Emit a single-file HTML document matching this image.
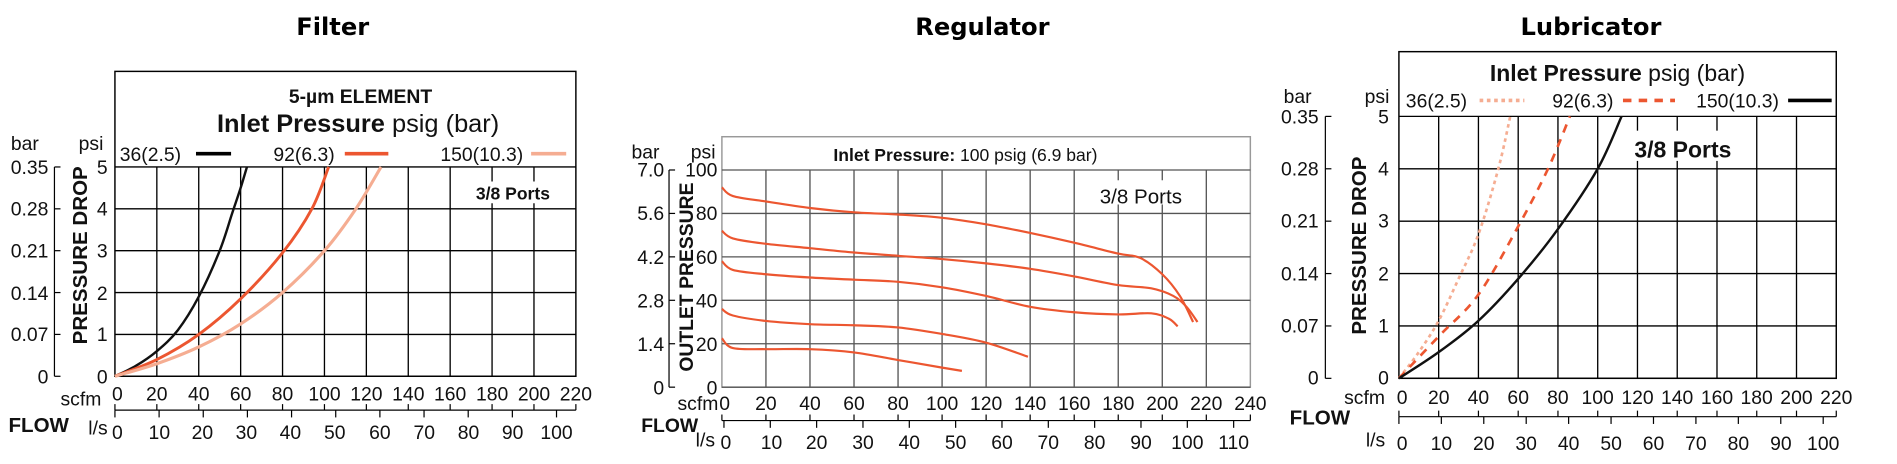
<!DOCTYPE html>
<html><head><meta charset="utf-8"><style>
html,body{margin:0;padding:0;background:#fff;width:1897px;height:464px;overflow:hidden}
svg{display:block}
text{font-family:"Liberation Sans Narrow","Liberation Sans",sans-serif;fill:#111}
.t{font-family:"DejaVu Sans","Liberation Sans",sans-serif;font-weight:bold;font-size:20px;fill:#000}
.k{font-size:16px}
.b{font-weight:bold}
</style></head><body>
<svg id="s" width="1897" height="464" viewBox="0 0 1568 383.5" preserveAspectRatio="none">
<g id="g"></g>
<text class="t" x="275" y="29" text-anchor="middle">Filter</text>
<text class="t" x="812" y="29" text-anchor="middle">Regulator</text>
<text class="t" x="1315" y="29" text-anchor="middle">Lubricator</text>

<!-- FILTER -->
<text x="298" y="85" text-anchor="middle" style="font-size:16px" class="b">5-µm ELEMENT</text>
<text x="296" y="109" text-anchor="middle" style="font-size:21px"><tspan class="b">Inlet Pressure</tspan> psig (bar)</text>
<text x="99" y="133" class="k">36(2.5)</text>
<text x="226" y="133" class="k">92(6.3)</text>
<text x="364" y="133" class="k">150(10.3)</text>
<rect x="386" y="150" width="74" height="18" fill="#fff"/>
<text x="424" y="165" text-anchor="middle" class="b" style="font-size:14.5px">3/8 Ports</text>
<text x="9" y="124" class="k">bar</text><text x="65" y="124" class="k">psi</text>
<g class="k" text-anchor="end">
<text x="40" y="144">0.35</text><text x="40" y="178">0.28</text><text x="40" y="213">0.21</text><text x="40" y="248">0.14</text><text x="40" y="282">0.07</text><text x="40" y="317">0</text>
<text x="89" y="144">5</text><text x="89" y="178">4</text><text x="89" y="213">3</text><text x="89" y="248">2</text><text x="89" y="282">1</text><text x="89" y="317">0</text>
</g>
<text transform="translate(72,211) rotate(-90)" text-anchor="middle" class="b" style="font-size:17px">PRESSURE DROP</text>
<g class="k" text-anchor="middle">
<text x="97" y="331">0</text><text x="129.6" y="331">20</text><text x="164.3" y="331">40</text><text x="198.9" y="331">60</text><text x="233.5" y="331">80</text><text x="268.2" y="331">100</text><text x="302.8" y="331">120</text><text x="337.5" y="331">140</text><text x="372.1" y="331">160</text><text x="406.8" y="331">180</text><text x="441.4" y="331">200</text><text x="476" y="331">220</text>
<text x="97" y="363">0</text><text x="131.7" y="363">10</text><text x="167.3" y="363">20</text><text x="203.7" y="363">30</text><text x="240" y="363">40</text><text x="276.7" y="363">50</text><text x="314" y="363">60</text><text x="350.7" y="363">70</text><text x="387.3" y="363">80</text><text x="423.7" y="363">90</text><text x="460" y="363">100</text>
</g>
<text x="50" y="335" class="k">scfm</text>
<text x="7" y="357" class="b" style="font-size:17px">FLOW</text>
<text x="73" y="359" class="k">l/s</text>

<!-- REGULATOR -->
<text x="798" y="133" text-anchor="middle" style="font-size:14.5px"><tspan class="b">Inlet Pressure:</tspan> 100 psig (6.9 bar)</text>
<rect x="904" y="149" width="78" height="20" fill="#fff"/>
<text x="943" y="168" text-anchor="middle" style="font-size:17px">3/8 Ports</text>
<text x="522" y="131" class="k">bar</text><text x="571" y="131" class="k">psi</text>
<g class="k" text-anchor="end">
<text x="549" y="146">7.0</text><text x="549" y="182">5.6</text><text x="549" y="218">4.2</text><text x="549" y="254">2.8</text><text x="549" y="290">1.4</text><text x="549" y="326">0</text>
<text x="593" y="146">100</text><text x="593" y="182">80</text><text x="593" y="218">60</text><text x="593" y="254">40</text><text x="593" y="290">20</text><text x="593" y="326">0</text>
</g>
<text transform="translate(573,229) rotate(-90)" text-anchor="middle" class="b" style="font-size:16px">OUTLET PRESSURE</text>
<g class="k" text-anchor="middle">
<text x="599" y="339">0</text><text x="633.1" y="339">20</text><text x="669.5" y="339">40</text><text x="705.9" y="339">60</text><text x="742.3" y="339">80</text><text x="778.7" y="339">100</text><text x="815.1" y="339">120</text><text x="851.5" y="339">140</text><text x="887.9" y="339">160</text><text x="924.3" y="339">180</text><text x="960.7" y="339">200</text><text x="997.1" y="339">220</text><text x="1033.5" y="339">240</text>
<text x="600" y="371">0</text><text x="637.7" y="371">10</text><text x="675" y="371">20</text><text x="713.3" y="371">30</text><text x="751.6" y="371">40</text><text x="789.9" y="371">50</text><text x="828.2" y="371">60</text><text x="866.5" y="371">70</text><text x="904.8" y="371">80</text><text x="943.1" y="371">90</text><text x="981.4" y="371">100</text><text x="1019.7" y="371">110</text>
</g>
<text x="560" y="339" class="k">scfm</text>
<text x="530" y="357" class="b" style="font-size:16px">FLOW</text>
<text x="575" y="369" class="k">l/s</text>

<!-- LUBRICATOR -->
<text x="1337" y="67" text-anchor="middle" style="font-size:19px"><tspan class="b">Inlet Pressure</tspan> psig (bar)</text>
<text x="1162" y="89" class="k">36(2.5)</text>
<text x="1283" y="89" class="k">92(6.3)</text>
<text x="1402" y="89" class="k">150(10.3)</text>
<rect x="1347" y="108" width="88" height="25" fill="#fff"/>
<text x="1391" y="130" text-anchor="middle" class="b" style="font-size:19px">3/8 Ports</text>
<text x="1061" y="85" class="k">bar</text><text x="1128" y="85" class="k">psi</text>
<g class="k" text-anchor="end">
<text x="1090" y="102">0.35</text><text x="1090" y="145">0.28</text><text x="1090" y="188">0.21</text><text x="1090" y="232">0.14</text><text x="1090" y="275">0.07</text><text x="1090" y="318">0</text>
<text x="1148" y="102">5</text><text x="1148" y="145">4</text><text x="1148" y="188">3</text><text x="1148" y="232">2</text><text x="1148" y="275">1</text><text x="1148" y="318">0</text>
</g>
<text transform="translate(1129,203) rotate(-90)" text-anchor="middle" class="b" style="font-size:17px">PRESSURE DROP</text>
<g class="k" text-anchor="middle">
<text x="1159" y="334">0</text><text x="1189.2" y="334">20</text><text x="1222" y="334">40</text><text x="1254.9" y="334">60</text><text x="1287.7" y="334">80</text><text x="1320.6" y="334">100</text><text x="1353.5" y="334">120</text><text x="1386.3" y="334">140</text><text x="1419.2" y="334">160</text><text x="1452" y="334">180</text><text x="1484.9" y="334">200</text><text x="1517.8" y="334">220</text>
<text x="1159" y="372">0</text><text x="1191.4" y="372">10</text><text x="1226.4" y="372">20</text><text x="1261.5" y="372">30</text><text x="1296.6" y="372">40</text><text x="1331.7" y="372">50</text><text x="1366.7" y="372">60</text><text x="1401.8" y="372">70</text><text x="1436.9" y="372">80</text><text x="1472" y="372">90</text><text x="1507" y="372">100</text>
</g>
<text x="1111" y="334" class="k">scfm</text>
<text x="1066" y="351" class="b" style="font-size:17px">FLOW</text>
<text x="1129" y="369" class="k">l/s</text>
</svg>
<script>
var NS="http://www.w3.org/2000/svg",G=document.getElementById("g");
function el(n,a){var e=document.createElementNS(NS,n);for(var k in a)e.setAttribute(k,a[k]);G.appendChild(e);return e;}
function L(x1,y1,x2,y2,c,w){el("line",{x1:x1,y1:y1,x2:x2,y2:y2,stroke:c||"#000","stroke-width":w||1});}
function curve(pts,X,Y,attrs){var p=pts.map(function(d){return [X(d[0]),Y(d[1])]});
 var s="M"+p[0][0]+","+p[0][1];
 for(var i=0;i<p.length-1;i++){var p0=p[i-1]||p[i],p1=p[i],p2=p[i+1],p3=p[i+2]||p2;
  s+="C"+(p1[0]+(p2[0]-p0[0])/6)+","+(p1[1]+(p2[1]-p0[1])/6)+" "+(p2[0]-(p3[0]-p1[0])/6)+","+(p2[1]-(p3[1]-p1[1])/6)+" "+p2[0]+","+p2[1];}
 attrs.d=s;attrs.fill="none";el("path",attrs);}
function chart(o){
 var X=function(v){return o.x0+(o.x1-o.x0)*v/o.xmax},Y=function(v){return o.y0-(o.y0-o.y1)*v/o.ymax};
 el("rect",{x:o.x0,y:o.top,width:o.x1-o.x0,height:o.y0-o.top,fill:"none",stroke:o.bc,"stroke-width":1.2});
 for(var v=0;v<=o.ymax;v+=o.ys)L(o.x0,Y(v),o.x1,Y(v),o.gc,1.1);
 for(var v=o.xs;v<o.xmax;v+=o.xs)L(X(v),o.y1,X(v),o.y0,o.gc,1.1);
 L(o.bx,o.y1,o.bx,o.y0,"#000",1);
 for(var v=0;v<=o.ymax;v+=o.ys)L(o.bx,Y(v),o.bx+5,Y(v),"#000",1);
 L(o.x0,o.fy,o.x1,o.fy,"#000",1);
 for(var v=0;v<=o.xmax;v+=o.xs)L(X(v),o.fy-5,X(v),o.fy,"#000",1);
 for(var i=0;i<o.ln;i++){var x=o.l0+o.lst*i;L(x,o.fy,x,o.fy+6,"#000",1);}
 o.series.forEach(function(s){curve(s.p,X,Y,s.a)});
}
var BL="#111",OR="#ec5630",SA="#f5ad92";
chart({x0:95,x1:476,xmax:220,xs:20,top:59,y1:138,y0:311,ymax:5,ys:1,bc:"#000",gc:"#000",bx:45,fy:339,l0:95,lst:36.5,ln:11,
 series:[
 {p:[[0,0],[10,0.25],[20,0.6],[30,1.1],[40,1.9],[50,3],[56,3.9],[60,4.5],[63,5]],a:{stroke:BL,"stroke-width":2}},
 {p:[[0,0],[20,0.4],[40,1],[60,1.85],[80,2.95],[94,4],[102,5]],a:{stroke:OR,"stroke-width":2.4}},
 {p:[[0,0],[20,0.3],[40,0.7],[60,1.25],[80,2],[100,3],[115,4],[127,5]],a:{stroke:SA,"stroke-width":2.6}}]});
L(162,127,191,127,"#000",3);L(285,127,321,127,OR,3);L(439,127,468,127,SA,3);
chart({x0:596.7,x1:1033.5,xmax:240,xs:20,top:113,y1:140.5,y0:320,ymax:100,ys:20,bc:"#999",gc:"#555",bx:553,fy:347.6,l0:598.4,lst:38.3,ln:12,
 series:[
 {p:[[0,92],[5,88],[20,85.5],[40,82.5],[60,80.5],[80,79.5],[100,78],[120,75],[140,71],[160,66.5],[180,61.5],[190,59.5],[200,52],[208,42],[214,30]],a:{stroke:OR,"stroke-width":1.8}},
 {p:[[0,72],[5,68.5],[20,66],[40,64],[60,62],[80,60.5],[100,59],[120,57],[140,54.5],[160,51],[180,47],[195,45.5],[205,42],[211,37],[216,30]],a:{stroke:OR,"stroke-width":1.8}},
 {p:[[0,58],[5,54],[20,52],[40,50.5],[60,49.5],[80,48.5],[100,46],[120,42],[140,37],[160,34.5],[180,33.5],[195,34],[203,31.5],[207,28]],a:{stroke:OR,"stroke-width":1.8}},
 {p:[[0,36],[5,33],[20,30.5],[40,29],[60,28.5],[80,27.5],[100,24.5],[120,20.5],[139,14]],a:{stroke:OR,"stroke-width":1.8}},
 {p:[[0,22.5],[5,18],[20,17.5],[40,17.5],[60,16],[80,12.5],[100,9],[109,7.5]],a:{stroke:OR,"stroke-width":1.8}}]});
chart({x0:1156.3,x1:1517.8,xmax:220,xs:20,top:42.7,y1:96.2,y0:312.7,ymax:5,ys:1,bc:"#000",gc:"#000",bx:1095.5,fy:344.4,l0:1156.3,lst:35.07,ln:11,
 series:[
 {p:[[0,0],[10,0.5],[20,1.1],[30,1.9],[40,2.75],[50,4],[56,5]],a:{stroke:SA,"stroke-width":2.2,"stroke-dasharray":"3 3"}},
 {p:[[0,0],[20,0.8],[40,1.6],[60,2.9],[75,4],[86,5]],a:{stroke:OR,"stroke-width":2.2,"stroke-dasharray":"7 6"}},
 {p:[[0,0],[20,0.5],[40,1.1],[60,1.9],[80,2.85],[100,4],[112,5]],a:{stroke:BL,"stroke-width":2}}]});
el("line",{x1:1223,y1:83,x2:1260,y2:83,stroke:SA,"stroke-width":3,"stroke-dasharray":"3 3"});
el("line",{x1:1341.5,y1:83,x2:1384.5,y2:83,stroke:OR,"stroke-width":3,"stroke-dasharray":"7 6"});
L(1478,83,1514,83,"#000",3);
var s=document.getElementById("s");s.insertBefore(G,s.firstChild);
</script>
</body></html>
